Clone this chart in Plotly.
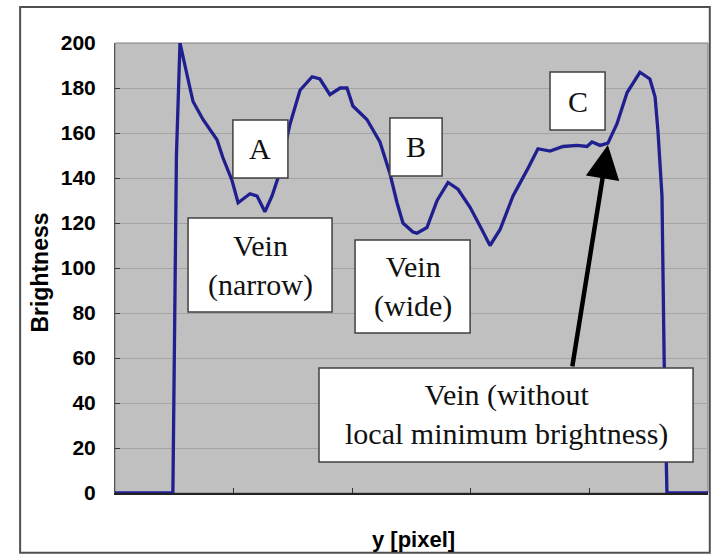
import plotly.graph_objects as go

# ---- data ----
pos = [0, 24.4, 25.9, 27.4, 31.6, 32.9, 37.1, 43.0, 45.5, 49.3, 51.9, 56.9, 59.9,
       63.2, 66.2, 68.7, 73.8, 78.0, 83.1, 86.4, 90.6, 94.9, 97.8, 100.3, 106.2,
       111.7, 115.9, 118.9, 121.4, 125.6, 127.3, 131.5, 135.8, 140.4, 144.6, 149.7,
       154.7, 158.1, 162.3, 167.8, 173.7, 178.3, 183.4, 188.9, 194.8, 199.0, 201.1,
       204.5, 207.8, 211.6, 215.9, 221.3, 225.5, 227.7, 228.9, 230.6, 231.5, 232.7, 250]
brightness = [0, 0, 150, 200, 180, 174, 166, 157, 149, 139, 129, 133, 132,
              125, 132, 140, 164, 179, 185, 184, 177, 180, 180, 172, 166,
              156, 142, 129, 120, 116, 115.5, 118, 130, 138, 135, 127,
              117, 110, 117, 132, 143.5, 153, 152, 154, 154.5, 154, 156,
              154.5, 155.5, 164, 178, 187, 184, 176, 161, 132, 60, 0, 0]

y_ticks = [0, 20, 40, 60, 80, 100, 120, 140, 160, 180, 200]
x_ticks = [0, 50, 100, 150, 200, 250]

# annotation boxes: (label, x0, x1, y0, y1)
boxes = [
    ("A", 49.7, 72.9, 140.0, 165.8),
    ("Vein<br>(narrow)", 30.8, 91.5, 80.4, 122.2),
    ("B", 115.9, 137.9, 140.9, 166.7),
    ("Vein<br>(wide)", 101.2, 149.7, 71.1, 112.4),
    ("C", 183.4, 206.6, 161.3, 187.1),
    ("Vein (without<br>local minimum brightness)", 86.0, 243.7, 13.8, 55.6),
]
arrow_tail = (192.7, 55.6)
arrow_tip = (207.8, 154.7)

LINE = "#1f1f8f"
BG = "#c0c0c0"
GRID = "#a4a4a4"
SERIF = "Liberation Serif, Times New Roman, serif"
SANS = "Liberation Sans, Arial, sans-serif"

fig = go.Figure()
fig.add_trace(go.Scatter(x=pos, y=brightness, mode="lines",
                         line=dict(color=LINE, width=3.3), showlegend=False,
                         hoverinfo="skip"))

shapes = []
annotations = []
for label, x0, x1, y0, y1 in boxes:
    shapes.append(dict(type="rect", xref="x", yref="y", x0=x0, x1=x1, y0=y0, y1=y1,
                       fillcolor="white", line=dict(color="#404040", width=1.5),
                       layer="above"))
    annotations.append(dict(x=(x0 + x1) / 2, y=(y0 + y1) / 2, xref="x", yref="y",
                            text=label, showarrow=False,
                            font=dict(family=SERIF, size=30, color="#111111")))

annotations.append(dict(x=arrow_tip[0], y=arrow_tip[1], ax=arrow_tail[0], ay=arrow_tail[1],
                        xref="x", yref="y", axref="x", ayref="y", text="",
                        showarrow=True, arrowhead=2, arrowsize=1.5, arrowwidth=4.5,
                        arrowcolor="black"))

# axis titles
annotations.append(dict(x=-0.128, y=0.49, xref="paper", yref="paper", text="Brightness",
                        textangle=-90, showarrow=False, xanchor="center", yanchor="middle",
                        font=dict(family=SANS, size=23, color="black", weight="bold")))
annotations.append(dict(x=0.503, y=-0.104, xref="paper", yref="paper", text="y [pixel]",
                        showarrow=False, xanchor="center", yanchor="middle",
                        font=dict(family=SANS, size=22, color="black", weight="bold")))

# plot area border and outer frame
shapes.append(dict(type="rect", xref="paper", yref="paper", x0=0, x1=1, y0=0, y1=1,
                   line=dict(color="#808080", width=1), layer="below"))
shapes.append(dict(type="rect", xref="paper", yref="paper", x0=-0.160, x1=1.003,
                   y0=-0.133, y1=1.08, line=dict(color="#505050", width=2)))

fig.update_layout(
    width=714, height=555,
    margin=dict(l=115, r=6, t=43, b=62),
    paper_bgcolor="white", plot_bgcolor=BG,
    shapes=shapes, annotations=annotations,
    xaxis=dict(range=[0, 250], tickvals=x_ticks, showticklabels=False,
               ticks="inside", ticklen=5, tickcolor="#333333",
               showgrid=False, zeroline=False, showline=True,
               linecolor="#222222", linewidth=1.5),
    yaxis=dict(range=[0, 200], tickvals=y_ticks, ticks="inside", ticklen=5,
               tickcolor="#333333", showgrid=True, gridcolor=GRID, gridwidth=1,
               zeroline=False, showline=True, linecolor="#555555", linewidth=1,
               ticklabelstandoff=14,
               tickfont=dict(family=SANS, size=21, color="black", weight="bold")),
)

fig.write_html("out.html", config={"displayModeBar": False},
               post_script="document.body.style.margin='0px';document.body.style.overflow='hidden';")
